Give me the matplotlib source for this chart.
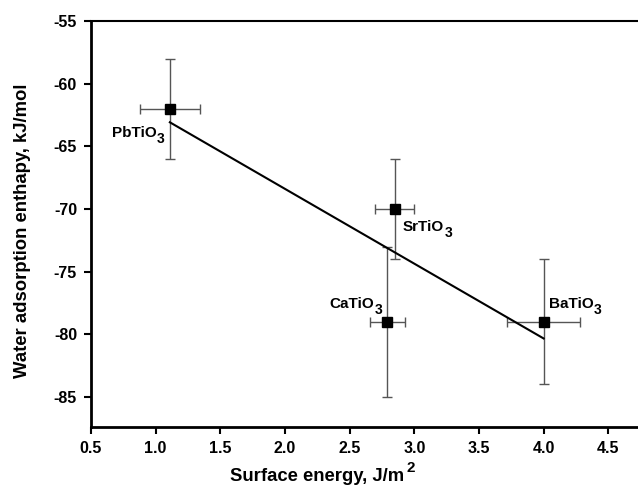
import numpy as np
import matplotlib.pyplot as plt

plt.rcParams['font.family'] = ['Liberation Sans', 'DejaVu Sans']
plt.rcParams['font.weight'] = 'bold'

names = ["PbTiO", "SrTiO", "CaTiO", "BaTiO"]
energy = [1.11, 2.85, 2.79, 4.0]
enthalpy = [-62, -70, -79, -79]
energy_err = [0.23, 0.15, 0.135, 0.28]
enthalpy_err = [4, 4, 6, 5]

# label offsets in points (baseline of the main text), and alignment
offsets = [(-9.5, -20.2), (5.8, -15.8), (-9.5, 10), (3.6, 10)]
aligns = ["right", "left", "right", "left"]

fig = plt.figure(figsize=(6.38, 4.88), dpi=100)
ax = fig.add_axes([0.1426, 0.125, 0.8574, 0.832])

ax.errorbar(energy, enthalpy, xerr=energy_err, yerr=enthalpy_err, fmt='none',
            ecolor='#555555', elinewidth=1.0, capsize=3.5, capthick=1.0, zorder=2)
ax.plot(energy, enthalpy, 's', color='black', markersize=7, zorder=4)

# linear fit
k, b = np.polyfit(energy, enthalpy, 1)
xf = np.array([min(energy), max(energy)])
ax.plot(xf, k * xf + b, color='black', linewidth=1.5, zorder=3)

for n, x, y, off, ha in zip(names, energy, enthalpy, offsets, aligns):
    t = ax.annotate(n, (x, y), xytext=off, textcoords='offset points',
                    ha=ha, va='baseline', fontsize=11, fontweight='bold')
    ax.annotate("3", xy=(1, 0), xycoords=t, xytext=(0.3, -2.2),
                textcoords='offset points', ha='left', va='baseline',
                fontsize=10, fontweight='bold')

ax.set_xlim(0.5, 4.73)
ax.set_ylim(-87.4, -55)
ax.set_xticks([0.5, 1.0, 1.5, 2.0, 2.5, 3.0, 3.5, 4.0, 4.5])
ax.set_yticks([-85, -80, -75, -70, -65, -60, -55])
ax.xaxis.set_major_formatter(plt.FormatStrFormatter('%.1f'))
ax.yaxis.set_major_formatter(plt.FormatStrFormatter('%d'))
ax.tick_params(direction='out', length=5, width=1.5, labelsize=11.5, pad=5)
for t in ax.get_xticklabels() + ax.get_yticklabels():
    t.set_fontweight('bold')

ax.spines['right'].set_visible(False)
ax.spines['left'].set_linewidth(2)
ax.spines['bottom'].set_linewidth(2)
ax.spines['top'].set_linewidth(1.5)

ax.set_xlabel("Surface energy, J/m", fontsize=13.3, fontweight='bold', labelpad=9)
ax.xaxis.label.set_x(0.413)
ax.annotate("2", xy=(1, 0), xycoords=ax.xaxis.label, xytext=(1.5, 9.5),
            textcoords='offset points', ha='left', va='baseline',
            fontsize=11, fontweight='bold')
ax.set_ylabel("Water adsorption enthapy, kJ/mol", fontsize=13.3, fontweight='bold',
              labelpad=16)
ax.yaxis.label.set_y(0.483)

fig.savefig("out.png", dpi=100)
